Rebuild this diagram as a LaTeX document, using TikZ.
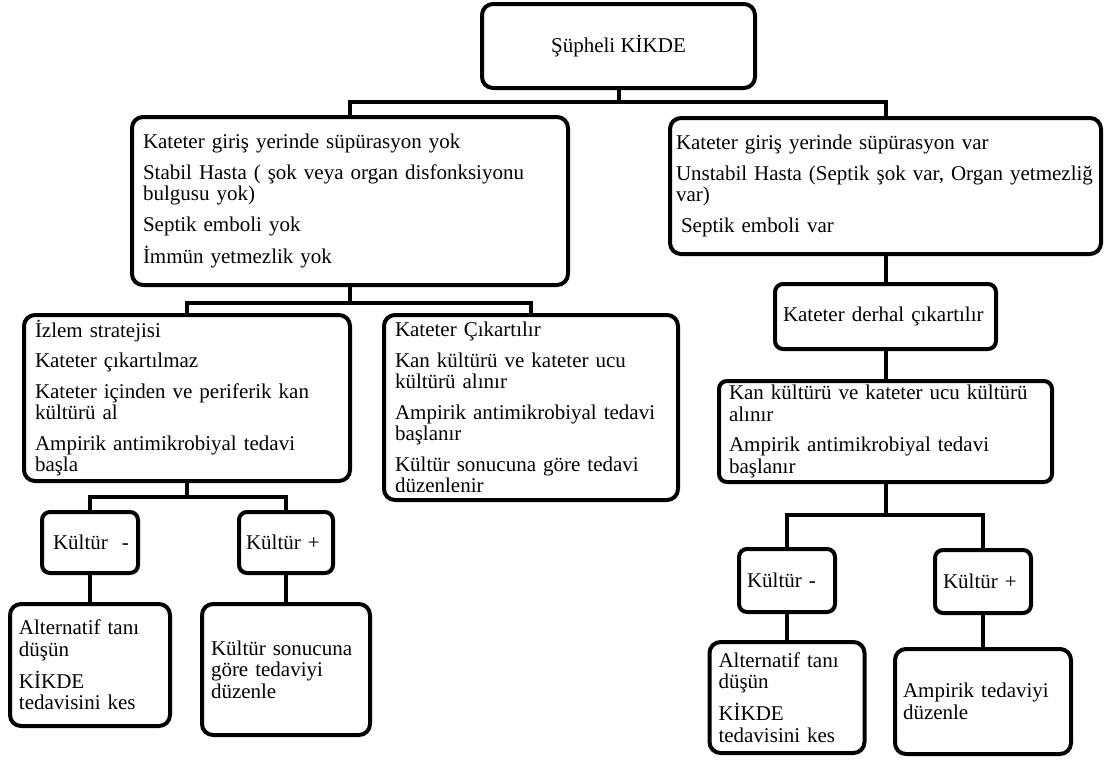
\documentclass[tikz,border=0pt]{standalone}
\usepackage{fontspec}
\setmainfont{Liberation Serif}
\tikzset{
	box/.style={draw, line width=4pt, rounded corners=11pt, align=left, inner xsep=10pt, inner ysep=0pt, font=\fontsize{21}{21.5}\selectfont},
	smallbox/.style={box, rounded corners=8pt},
	link/.style={line width=4pt}
}

\begin{document}
\begin{tikzpicture}[x=1pt, y=-1pt]
			%%%%% START %%%%%
			\useasboundingbox (0,0) rectangle (1106,763);
			
			\node[box, align=center, minimum width=273, minimum height=84] (supheli) at (618.5,46) {Şüpheli KİKDE};
			
			% left branch
			\node[box, inner xsep=11pt, text width=414, minimum height=168] (yok) at (350,201)
				{Kateter giriş yerinde süpürasyon yok\\[9pt]
				 Stabil Hasta ( şok veya organ disfonksiyonu\\bulgusu yok)\\[9pt]
				 Septik emboli yok\\[9pt]
				 İmmün yetmezlik yok};
			\node[box, inner xsep=11pt, text width=304, minimum height=166] (izlem) at (187,398)
				{İzlem stratejisi\\[9pt]
				 Kateter çıkartılmaz\\[9pt]
				 Kateter içinden ve periferik kan\\kültürü al\\[9pt]
				 Ampirik antimikrobiyal tedavi\\başla};
			\node[box, inner xsep=11pt, text width=272, minimum height=185] (cikar) at (531,407.5)
				{Kateter Çıkartılır\\[9pt]
				 Kan kültürü ve kateter ucu\\kültürü alınır\\[9pt]
				 Ampirik antimikrobiyal tedavi\\başlanır\\[9pt]
				 Kültür sonucuna göre tedavi\\düzenlenir};
			
			\node[smallbox, inner xsep=8pt, text width=80, minimum height=61] (lneg) at (90,542.5) {\hspace*{3pt}Kültür\ \ -};
			\node[smallbox, inner xsep=7pt, text width=80, minimum height=61] (lpos) at (286,542.5) {Kültür +};
			\node[box, inner xsep=9pt, text width=142, minimum height=122] (lalt) at (90,665)
				{Alternatif tanı\\düşün\\[9pt]
				 KİKDE\\tedavisini kes};
			\node[box, inner xsep=9pt, text width=150, minimum height=131] (lson) at (286,669.5)
				{Kültür sonucuna\\göre tedaviyi\\düzenle};
			
			% right branch
			\node[box, inner xsep=6pt, text width=419, minimum height=136] (var) at (885.5,186)
				{Kateter giriş yerinde süpürasyon var\\[9pt]
				 Unstabil Hasta (Septik şok var, Organ yetmezliğ\\var)\\[9pt]
				 \hspace*{5pt}Septik emboli var};
			\node[smallbox, inner xsep=8pt, text width=205, minimum height=65] (derhal) at (885.5,316.5) {Kateter derhal çıkartılır};
			\node[smallbox, inner xsep=10pt, text width=313, minimum height=101] (kan) at (885.5,431.5)
				{Kan kültürü ve kateter ucu kültürü\\alınır\\[9pt]
				 Ampirik antimikrobiyal tedavi\\başlanır};
			
			\node[smallbox, inner xsep=8pt, text width=80, minimum height=63] (rneg) at (787,580.5) {Kültür -};
			\node[smallbox, inner xsep=8pt, text width=80, minimum height=63] (rpos) at (983,581.5) {Kültür +};
			\node[box, inner xsep=9pt, text width=137, minimum height=111] (ralt) at (787,697.5)
				{Alternatif tanı\\düşün\\[9pt]
				 KİKDE\\tedavisini kes};
			\node[box, inner xsep=8pt, text width=160, minimum height=105] (ramp) at (983,701.5)
				{Ampirik tedaviyi\\düzenle};
			
			% connectors
			\coordinate (b1) at (618.5,102);
			\coordinate (b2) at (350,303);
			\coordinate (b3) at (187,497);
			\coordinate (b4) at (885.5,515);
			
			\draw[link] (supheli.south) -- (b1);
			\draw[link] (yok.north) |- (b1) -| (var.north);
			
			\draw[link] (yok.south) -- (b2);
			\draw[link] (izlem.north) |- (b2) -| (cikar.north);
			
			\draw[link] (izlem.south) -- (b3);
			\draw[link] (lneg.north) |- (b3) -| (lpos.north);
			\draw[link] (lneg.south) -- (lalt.north);
			\draw[link] (lpos.south) -- (lson.north);
			
			\draw[link] (var.south) -- (derhal.north);
			\draw[link] (derhal.south) -- (kan.north);
			\draw[link] (kan.south) -- (b4);
			\draw[link] (rneg.north) |- (b4) -| (rpos.north);
			\draw[link] (rneg.south) -- (ralt.north);
			\draw[link] (rpos.south) -- (ramp.north);
			%%%%% END %%%%%
\end{tikzpicture}
\end{document}
